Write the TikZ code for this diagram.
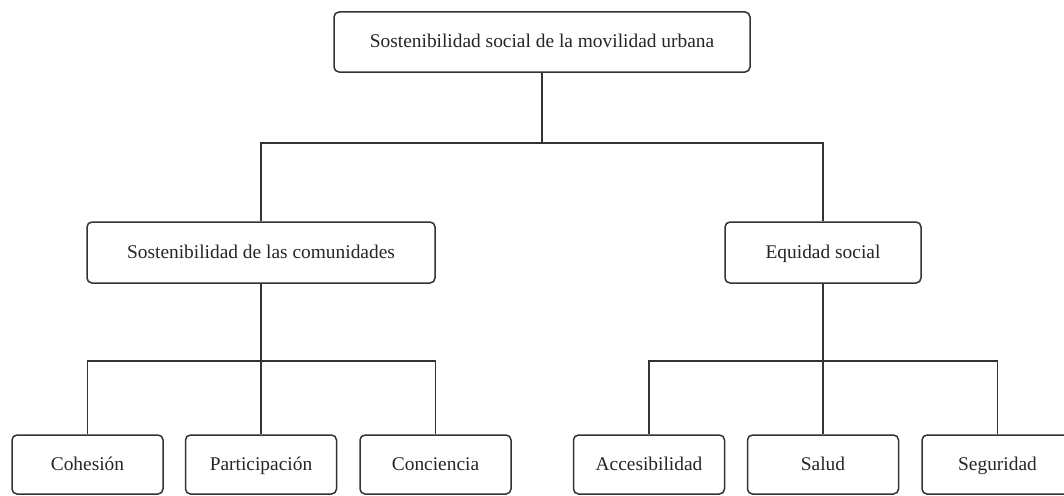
\documentclass[tikz,border=0pt]{standalone}
\usepackage{fontspec}
\setmainfont{Liberation Serif}
\begin{document}
\begin{tikzpicture}[x=1pt,y=-1pt,
  box/.style={draw=black!80, line width=1.5pt, rounded corners=5pt, fill=white,
    inner sep=0pt, text=black!85, text height=14pt, text depth=2pt,
    font=\fontsize{19.4}{23}\selectfont},
  lvl0/.style={box, minimum width=416pt, minimum height=60pt},
  lvl1/.style={box, minimum height=61pt},
  lvl2/.style={box, minimum width=151pt, minimum height=59pt},
  link/.style={draw=black!80, line width=1.5pt}]
\useasboundingbox (0,0) rectangle (1064,495);
\clip (0,0) rectangle (1064,495);
\node[lvl0] (top) at (542,42) {Sostenibilidad social de la movilidad urbana};
\node[lvl1, minimum width=348pt] (ml) at (261,252.5) {Sostenibilidad de las comunidades};
\node[lvl1, minimum width=196pt] (mr) at (823,252.5) {Equidad social};
\node[lvl2] (b1) at (87.5,464.5) {Cohesión};
\node[lvl2] (b2) at (261,464.5) {Participación};
\node[lvl2] (b3) at (435.5,464.5) {Conciencia};
\node[lvl2] (b4) at (649,464.5) {Accesibilidad};
\node[lvl2] (b5) at (823,464.5) {Salud};
\node[lvl2] (b6) at (997.5,464.5) {Seguridad};
\coordinate (j0) at (542,143);
\coordinate (j1) at (261,361);
\coordinate (j2) at (823,361);
\draw[link] (top.south) -- (j0);
\draw[link] (j0) -| (ml.north);
\draw[link] (j0) -| (mr.north);
\draw[link] (ml.south) -- (j1);
\draw[link] (j1) -| (b1.north);
\draw[link] (j1) -- (b2.north);
\draw[link] (j1) -| (b3.north);
\draw[link] (mr.south) -- (j2);
\draw[link] (j2) -| (b4.north);
\draw[link] (j2) -- (b5.north);
\draw[link] (j2) -| (b6.north);
\end{tikzpicture}
\end{document}
